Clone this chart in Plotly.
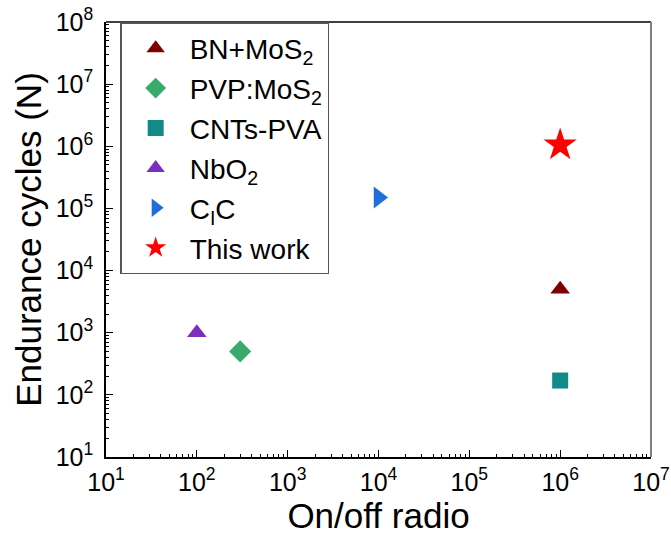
import plotly.graph_objects as go

names = ["BN+MoS<sub>2</sub>", "PVP:MoS<sub>2</sub>", "CNTs-PVA", "NbO<sub>2</sub>", "C<sub>I</sub>C", "This work"]
on_off = [1e6, 300, 1e6, 100, 1e4, 1e6]
endurance = [5e3, 500, 170, 1000, 1.5e5, 1.05e6]
colors = ["#7f0000", "#3aaa6c", "#118a88", "#7b2fbf", "#1f6fdb", "#ff0000"]
symbols = ["triangle-up", "diamond", "square", "triangle-up", "triangle-right", "star"]
sizes = [17, 17, 16, 17, 19, 25]

x_ticks = [10**k for k in range(1, 8)]
y_ticks = [10**k for k in range(1, 9)]
x_ticktext = [f"10<sup>{k}</sup>" for k in range(1, 8)]
y_ticktext = [f"10<sup>{k}</sup>" for k in range(1, 9)]

font = "Liberation Sans, Arial, sans-serif"

fig = go.Figure()
for i in range(len(names)):
    fig.add_trace(go.Scatter(
        x=[on_off[i]], y=[endurance[i]], mode="markers", name=names[i],
        legendgroup=f"g{i}",
        marker=dict(symbol=symbols[i], size=sizes[i], color=colors[i], line=dict(width=0)),
    ))

minor_x = [m * 10**k for k in range(1, 7) for m in range(2, 10)]
minor_y = [m * 10**k for k in range(1, 8) for m in range(2, 10)]

fig.update_layout(
    width=671, height=536,
    margin=dict(l=106, r=20, t=22, b=79),
    paper_bgcolor="white", plot_bgcolor="white",
    font=dict(family=font, color="black"),
    showlegend=True,
    legend=dict(
        x=0.026, y=1.0, xanchor="left", yanchor="top",
        bgcolor="white", bordercolor="#555555", borderwidth=1.5,
        font=dict(size=28, family=font, color="black"),
        tracegroupgap=0.5, itemwidth=58,
    ),
    xaxis=dict(
        type="log", range=[1, 7], automargin=False,
        tickvals=x_ticks, ticktext=x_ticktext,
        tickfont=dict(size=25, family=font, color="black"),
        ticks="inside", ticklen=7, tickwidth=1, tickcolor="black",
        showline=True, linecolor="black", linewidth=1.5, mirror=False,
        showgrid=False, zeroline=False,
        ticklabelstandoff=2, ticklabeloverflow="allow",
        minor=dict(tickvals=minor_x, ticks="inside", ticklen=3.5, tickcolor="black", showgrid=False),
        title=dict(text="On/off radio", font=dict(size=35, family=font, color="black"), standoff=2),
    ),
    yaxis=dict(
        type="log", range=[1, 8], automargin=False,
        tickvals=y_ticks, ticktext=y_ticktext,
        tickfont=dict(size=25, family=font, color="black"),
        ticks="inside", ticklen=7, tickwidth=1, tickcolor="black",
        showline=True, linecolor="black", linewidth=1.5, mirror=False,
        showgrid=False, zeroline=False,
        ticklabelstandoff=6, ticklabeloverflow="allow",
        minor=dict(tickvals=minor_y, ticks="inside", ticklen=3.5, tickcolor="black", showgrid=False),
        title=dict(text="Endurance cycles (N)", font=dict(size=35, family=font, color="black"), standoff=3),
    ),
    shapes=[
        dict(type="line", xref="paper", yref="paper", x0=0, x1=1, y0=1, y1=1,
             line=dict(color="black", width=1.5)),
        dict(type="line", xref="paper", yref="paper", x0=1, x1=1, y0=0, y1=1,
             line=dict(color="#808080", width=2)),
    ],
)

fig.write_html("out.html", config={"displayModeBar": False},
               post_script="document.body.style.margin='0px';")
